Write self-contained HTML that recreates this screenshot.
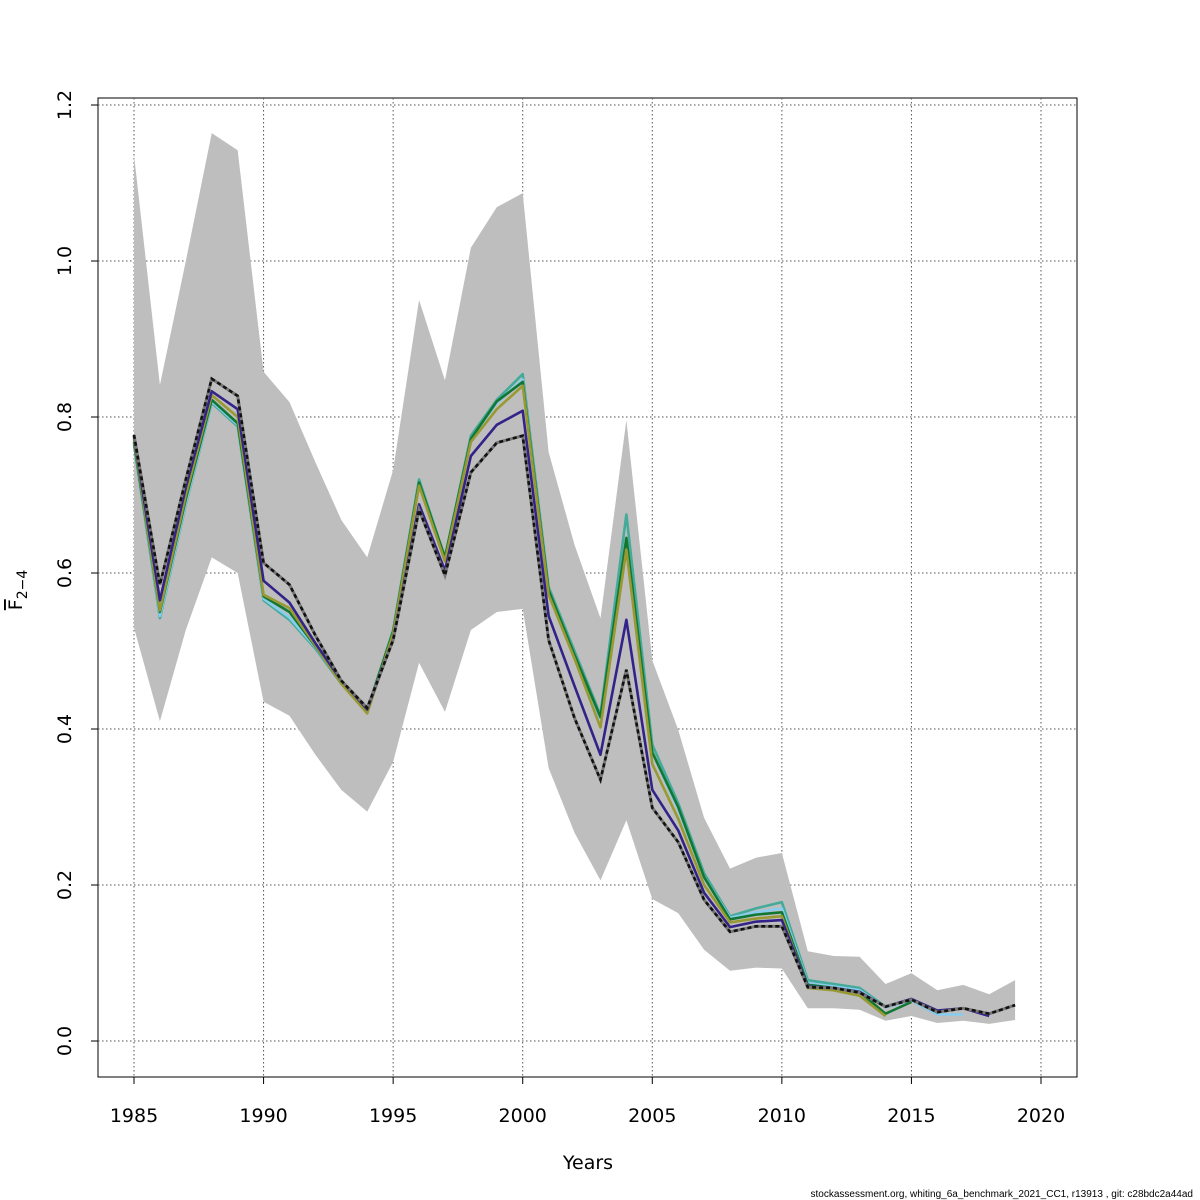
<!DOCTYPE html>
<html><head><meta charset="utf-8"><style>
body{margin:0;background:#fff}
svg{display:block;font-family:"DejaVu Sans","Liberation Sans",sans-serif}
</style></head><body>
<svg id="chart" width="1200" height="1200" xmlns="http://www.w3.org/2000/svg">
<rect x="98" y="98" width="979" height="979" fill="none" stroke="#000" stroke-width="1"/>
<g id="grid"></g>
<g id="band"></g>
<g id="lines"></g>
<g id="axes"></g>
<text x="588" y="1169" font-size="19" text-anchor="middle">Years</text>
<text transform="translate(22,590) rotate(-90)" font-size="19" text-anchor="middle"><tspan text-decoration="overline">F</tspan><tspan font-size="14" dy="5">2−4</tspan></text>
<text x="1193" y="1197" font-size="10" text-anchor="end" font-family="Liberation Sans, sans-serif">stockassessment.org, whiting_6a_benchmark_2021_CC1, r13913 , git: c28bdc2a44ad</text>
</svg>
<script>
const years=[1985,1986,1987,1988,1989,1990,1991,1992,1993,1994,1995,1996,1997,1998,1999,2000,2001,2002,2003,2004,2005,2006,2007,2008,2009,2010,2011,2012,2013,2014,2015,2016,2017,2018,2019];
const upper=[1.136,0.841,1.0,1.164,1.142,0.858,0.819,0.742,0.668,0.62,0.732,0.95,0.847,1.017,1.069,1.087,0.755,0.636,0.542,0.796,0.488,0.399,0.286,0.221,0.235,0.241,0.115,0.109,0.108,0.073,0.087,0.065,0.072,0.06,0.078];
const lower=[0.53,0.41,0.527,0.62,0.6,0.435,0.417,0.367,0.322,0.294,0.358,0.485,0.422,0.527,0.55,0.554,0.35,0.267,0.206,0.283,0.182,0.164,0.117,0.09,0.094,0.093,0.042,0.042,0.04,0.026,0.032,0.023,0.026,0.022,0.027];
const fFinal=[0.777,0.585,0.72,0.849,0.827,0.613,0.585,0.52,0.462,0.427,0.514,0.681,0.597,0.729,0.767,0.776,0.514,0.414,0.335,0.476,0.299,0.255,0.181,0.14,0.147,0.147,0.069,0.068,0.062,0.044,0.053,0.037,0.042,0.035,0.046];
const fPeel1=[0.775,0.565,0.71,0.833,0.81,0.59,0.562,0.51,0.462,0.425,0.515,0.688,0.603,0.75,0.79,0.808,0.545,0.455,0.367,0.54,0.322,0.27,0.19,0.146,0.153,0.155,0.07,0.068,0.063,0.044,0.054,0.039,0.042,0.032];
const fPeel2=[0.77,0.545,0.69,0.82,0.79,0.567,0.543,0.505,0.46,0.425,0.525,0.715,0.618,0.772,0.818,0.848,0.578,0.495,0.413,0.64,0.37,0.297,0.21,0.158,0.165,0.17,0.074,0.07,0.065,0.043,0.052,0.034,0.034];
const fPeel3=[0.765,0.542,0.688,0.818,0.788,0.565,0.54,0.503,0.458,0.424,0.527,0.72,0.62,0.776,0.822,0.855,0.582,0.5,0.418,0.675,0.38,0.305,0.215,0.16,0.17,0.178,0.078,0.073,0.068,0.044,0.052,0.034];
const fPeel4=[0.768,0.55,0.695,0.822,0.792,0.57,0.55,0.506,0.46,0.425,0.525,0.716,0.62,0.772,0.82,0.845,0.578,0.495,0.415,0.645,0.37,0.3,0.21,0.156,0.162,0.165,0.072,0.068,0.063,0.035,0.05];
const fPeel5=[0.772,0.552,0.7,0.828,0.8,0.572,0.555,0.507,0.458,0.42,0.522,0.712,0.615,0.768,0.81,0.84,0.572,0.49,0.402,0.63,0.355,0.285,0.2,0.152,0.157,0.16,0.068,0.065,0.058,0.032];
const xTicks=[1985,1990,1995,2000,2005,2010,2015,2020];
const yTicks=[0,0.2,0.4,0.6,0.8,1.0,1.2];
const yTickLabels=["0.0","0.2","0.4","0.6","0.8","1.0","1.2"];

const NS="http://www.w3.org/2000/svg";
const X=y=>134+(y-1985)*(1041-134)/35;
const Y=v=>1041-v*780;
function mk(tag,parent,attrs){const e=document.createElementNS(NS,tag);for(const k in attrs)e.setAttribute(k,attrs[k]);document.getElementById(parent).appendChild(e);return e;}

xTicks.forEach(t=>{
  const g=mk('line','grid',{x1:X(t),x2:X(t),y1:98,y2:1077,stroke:'#555','stroke-dasharray':'1.5,2.5','stroke-width':1});
  
  
  const tk=mk('line','axes',{x1:X(t),x2:X(t),y1:1077,y2:1084,stroke:'#000'});
  
  
  const tx=mk('text','axes',{x:X(t),y:1122,'font-size':19,'text-anchor':'middle'});
  tx.textContent=t;
  
  
});
yTicks.forEach((t,i)=>{
  const g=mk('line','grid',{x1:98,x2:1077,y1:Y(t),y2:Y(t),stroke:'#555','stroke-dasharray':'1.5,2.5','stroke-width':1});
  
  
  const tk=mk('line','axes',{x1:91,x2:98,y1:Y(t),y2:Y(t),stroke:'#000'});
  
  
  const tx=mk('text','axes',{transform:`translate(71,${Y(t)}) rotate(-90)`,'font-size':19,'text-anchor':'middle'});
  tx.textContent=yTickLabels[i];
  
  
});

let d=upper.map((v,i)=>(i?'L':'M')+X(years[i])+','+Y(v)).join('');
for(let i=lower.length-1;i>=0;i--)d+='L'+X(years[i])+','+Y(lower[i]);
const band=mk('path','band',{d:d+'Z',fill:'#bebebe',stroke:'none'});



function pts(arr){return arr.map((v,i)=>X(years[i])+','+Y(v)).join(' ');}
const series=[[fPeel3,'#44AA99','peel-2016'],[fPeel2,'#88CCEE','peel-2017'],[fPeel4,'#117733','peel-2015'],[fPeel5,'#999933','peel-2014'],[fPeel1,'#332288','peel-2018']];
series.forEach(s=>{
  const l=mk('polyline','lines',{points:pts(s[0]),fill:'none',stroke:s[1],'stroke-width':2.6,'stroke-linejoin':'round'});
  
  
});
const f1=mk('polyline','lines',{points:pts(fFinal),fill:'none',stroke:'#777','stroke-width':3});


const f2=mk('polyline','lines',{points:pts(fFinal),fill:'none',stroke:'#111','stroke-width':2.6,'stroke-dasharray':'4,3'});


</script>
</body></html>
